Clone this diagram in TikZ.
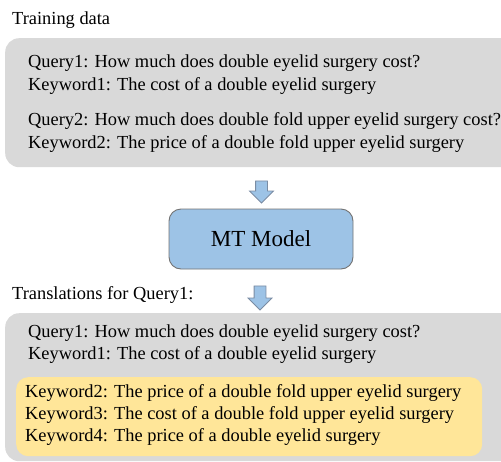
\documentclass[tikz,border=0pt]{standalone}
\usepackage{fontspec}
\setmainfont{Liberation Serif}
\usetikzlibrary{positioning,shapes.arrows}
\definecolor{panelgray}{HTML}{D9D9D9}
\definecolor{modelblue}{HTML}{9DC3E6}
\definecolor{hilite}{HTML}{FFE699}
\definecolor{arrowedge}{HTML}{7A8CA3}
\tikzset{
  panel/.style={fill=panelgray, rounded corners=14pt, anchor=north west, inner sep=0pt},
  hlbox/.style={fill=hilite, rounded corners=12pt, anchor=north west, inner sep=0pt},
  txt/.style={anchor=west, inner sep=0pt, text height=12.5pt, text depth=4.5pt, font=\fontsize{18.4}{22}\selectfont},
  modelbox/.style={draw=black!55, fill=modelblue, line width=0.9pt, rounded corners=12pt, minimum width=184pt, minimum height=60pt, font=\fontsize{23}{27}\selectfont},
  downarrow/.style={single arrow, draw=arrowedge, fill=modelblue, line width=0.8pt, inner xsep=0pt, inner ysep=5.5pt,
    single arrow head extend=6pt, rotate=-90}
}
\begin{document}
\begin{tikzpicture}[x=1pt, y=-1pt]
  \path[use as bounding box, clip] (0,0) rectangle (501,461);
  % training data
  \node[txt] (traintitle) at (12,20) {Training data};
  \node[panel, minimum width=520pt, minimum height=129pt] (train) at (5,38) {};
  \node[txt] (q1) at (28,63) {Query1: How much does double eyelid surgery cost?};
  \node[txt] (k1) at (28,86) {Keyword1: The cost of a double eyelid surgery};
  \node[txt] (q2) at (28,121) {Query2: How much does double fold upper eyelid surgery cost?};
  \node[txt] (k2) at (28,144) {Keyword2: The price of a double fold upper eyelid surgery};
  % model
  \node[modelbox] (mt) at (261,239) {MT Model};
  \node[downarrow, minimum height=22pt] (arrA) at (261.5,189) {};
  \node[downarrow, minimum height=24pt] (arrB) at (260,295) {};
  % translations
  \node[txt] (transtitle) at (12,295) {Translations for Query1:};
  \node[panel, minimum width=520pt, minimum height=148pt] (trans) at (5,313) {};
  \node[txt] (tq1) at (28,333) {Query1: How much does double eyelid surgery cost?};
  \node[txt] (tk1) at (28,355) {Keyword1: The cost of a double eyelid surgery};
  \node[hlbox, minimum width=466pt, minimum height=79pt] (new) at (16,377) {};
  \node[txt] (tk2) at (25,393) {Keyword2: The price of a double fold upper eyelid surgery};
  \node[txt] (tk3) at (25,415) {Keyword3: The cost of a double fold upper eyelid surgery};
  \node[txt] (tk4) at (25,437) {Keyword4: The price of a double eyelid surgery};
\end{tikzpicture}
\end{document}
